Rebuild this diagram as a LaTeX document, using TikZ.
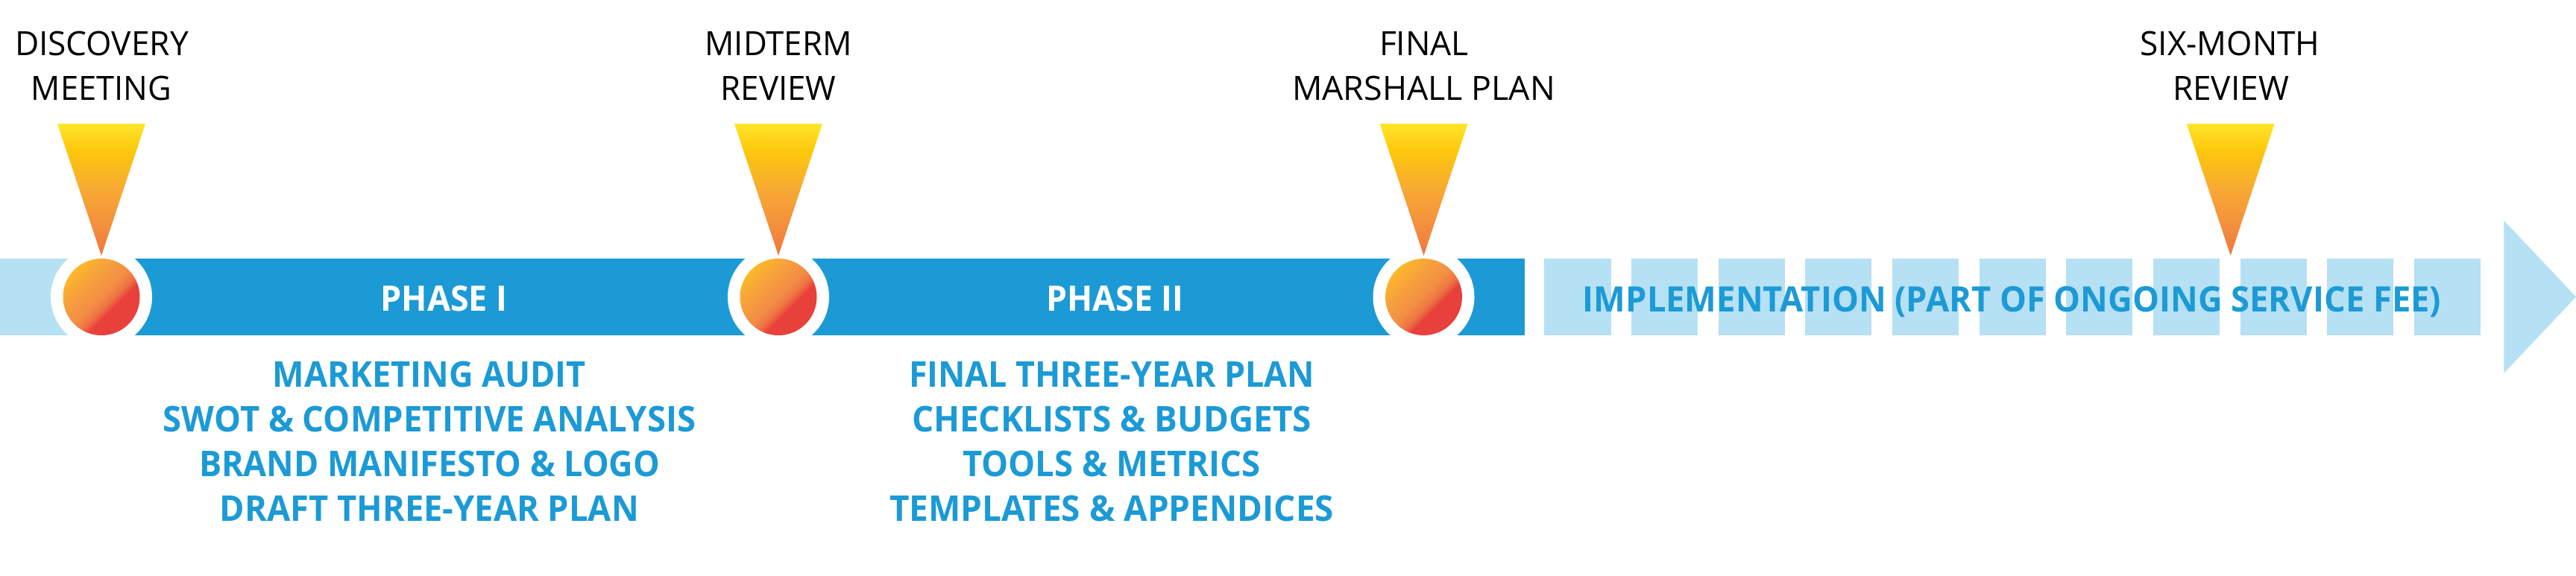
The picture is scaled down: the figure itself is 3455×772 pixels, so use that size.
\documentclass[tikz,border=0pt]{standalone}
\usepackage{fontspec}
\usepackage{graphicx}
\newfontfamily\osans{Open Sans}
\definecolor{barblue}{HTML}{1B9AD6}
\definecolor{lightblue}{HTML}{B6E0F3}
\definecolor{triTop}{HTML}{FFE52A}
\definecolor{triA}{HTML}{FDC80C}
\definecolor{triB}{HTML}{F8A934}
\definecolor{triC}{HTML}{F38C3E}
\definecolor{triD}{HTML}{EF763C}
\definecolor{ballA}{HTML}{FDB92A}
\definecolor{ballB}{HTML}{F7A03C}
\definecolor{ballC}{HTML}{F28D45}
\definecolor{ballD}{HTML}{EE7242}
\definecolor{ballE}{HTML}{E8403B}
\pgfdeclareverticalshading{tri}{100bp}{color(0bp)=(triD); color(25bp)=(triD); color(35bp)=(triC); color(50bp)=(triB); color(65bp)=(triA); color(75bp)=(triTop); color(100bp)=(triTop)}
\pgfdeclarehorizontalshading{ball}{100bp}{color(0bp)=(ballA); color(25bp)=(ballA); color(37.5bp)=(ballB); color(50bp)=(ballC); color(56bp)=(ballD); color(60.5bp)=(ballE); color(75bp)=(ballE); color(100bp)=(ballE)}
\newcommand{\fitw}[2]{\resizebox{#1pt}{\height}{#2}}
\tikzset{
  lbl/.style={anchor=base, inner sep=0pt, text=black, font=\osans\fontsize{44.8}{50}\selectfont},
  item/.style={anchor=base, inner sep=0pt, text=barblue, font=\osans\bfseries\fontsize{47.6}{54}\selectfont},
  bartxt/.style={anchor=base, inner sep=0pt, text=white, font=\osans\bfseries\fontsize{47}{54}\selectfont},
  impltxt/.style={bartxt, text=barblue},
}
\begin{document}
\begin{tikzpicture}[x=1pt,y=-1pt]
\useasboundingbox (0,0) rectangle (3455,772);
\fill[white] (0,0) rectangle (3455,772);
% bar
\fill[lightblue] (0,347) rectangle (136,450);
\fill[barblue] (136,347) rectangle (2045,450);
\foreach \i in {0,...,10} \fill[lightblue] ({2071.4+116.64*\i},347) rectangle ++(89.1,103);
\fill[lightblue] (3358.3,296) -- (3455,398.3) -- (3358.3,500.7) -- cycle;
% white rings
\begin{scope}
  \clip (0,347) rectangle (3455,450);
  \foreach \cx in {136,1044,1909.5} \fill[white] (\cx,398.5) circle (68pt);
\end{scope}
% balls
\foreach \cx in {136,1044,1909.5} {
  \begin{scope}
    \clip (\cx,398.5) circle (51.5pt);
    \begin{scope}[transform canvas={shift={(\cx,398.5)},rotate=-45}]
      \shade[shading=ball] (-52,-52) rectangle (52,52);
    \end{scope}
  \end{scope}
}
% markers
\foreach \cx in {136,1044,1909.5,2991.7} \shade[shading=tri] (\cx-59,166) -- (\cx+59,166) -- (\cx,343) -- cycle;
% milestone labels
\node[lbl] (m1a) at (136.5,74) {\fitw{233}{DISCOVERY}};
\node[lbl] (m1b) at (136,134) {\fitw{188}{MEETING}};
\node[lbl] (m2a) at (1044,74) {\fitw{197}{MIDTERM}};
\node[lbl] (m2b) at (1044,134) {\fitw{155}{REVIEW}};
\node[lbl] (m3a) at (1910,74) {\fitw{120}{FINAL}};
\node[lbl] (m3b) at (1909.5,134) {\fitw{353}{MARSHALL PLAN}};
\node[lbl] (m4a) at (2991,74) {\fitw{241}{SIX-MONTH}};
\node[lbl] (m4b) at (2992,134) {\fitw{156}{REVIEW}};
% bar texts
\node[bartxt] (p1) at (595.6,417.5) {\fitw{170}{PHASE I}};
\node[bartxt] (p2) at (1495.3,417.5) {\fitw{184}{PHASE II}};
\node[impltxt] (imp) at (2698.5,418.5) {\fitw{1151}{IMPLEMENTATION (PART OF ONGOING SERVICE FEE)}};
% phase I items
\node[item] (a1) at (576,519) {\fitw{420}{MARKETING AUDIT}};
\node[item] (a2) at (576,579) {\fitw{714}{SWOT \& COMPETITIVE ANALYSIS}};
\node[item] (a3) at (576,639) {\fitw{618}{BRAND MANIFESTO \& LOGO}};
\node[item] (a4) at (576,699) {\fitw{562}{DRAFT THREE-YEAR PLAN}};
% phase II items
\node[item] (b1) at (1491,519) {\fitw{544}{FINAL THREE-YEAR PLAN}};
\node[item] (b2) at (1491,579) {\fitw{536}{CHECKLISTS \& BUDGETS}};
\node[item] (b3) at (1491,639) {\fitw{400}{TOOLS \& METRICS}};
\node[item] (b4) at (1491,699) {\fitw{596}{TEMPLATES \& APPENDICES}};
\end{tikzpicture}
\end{document}
